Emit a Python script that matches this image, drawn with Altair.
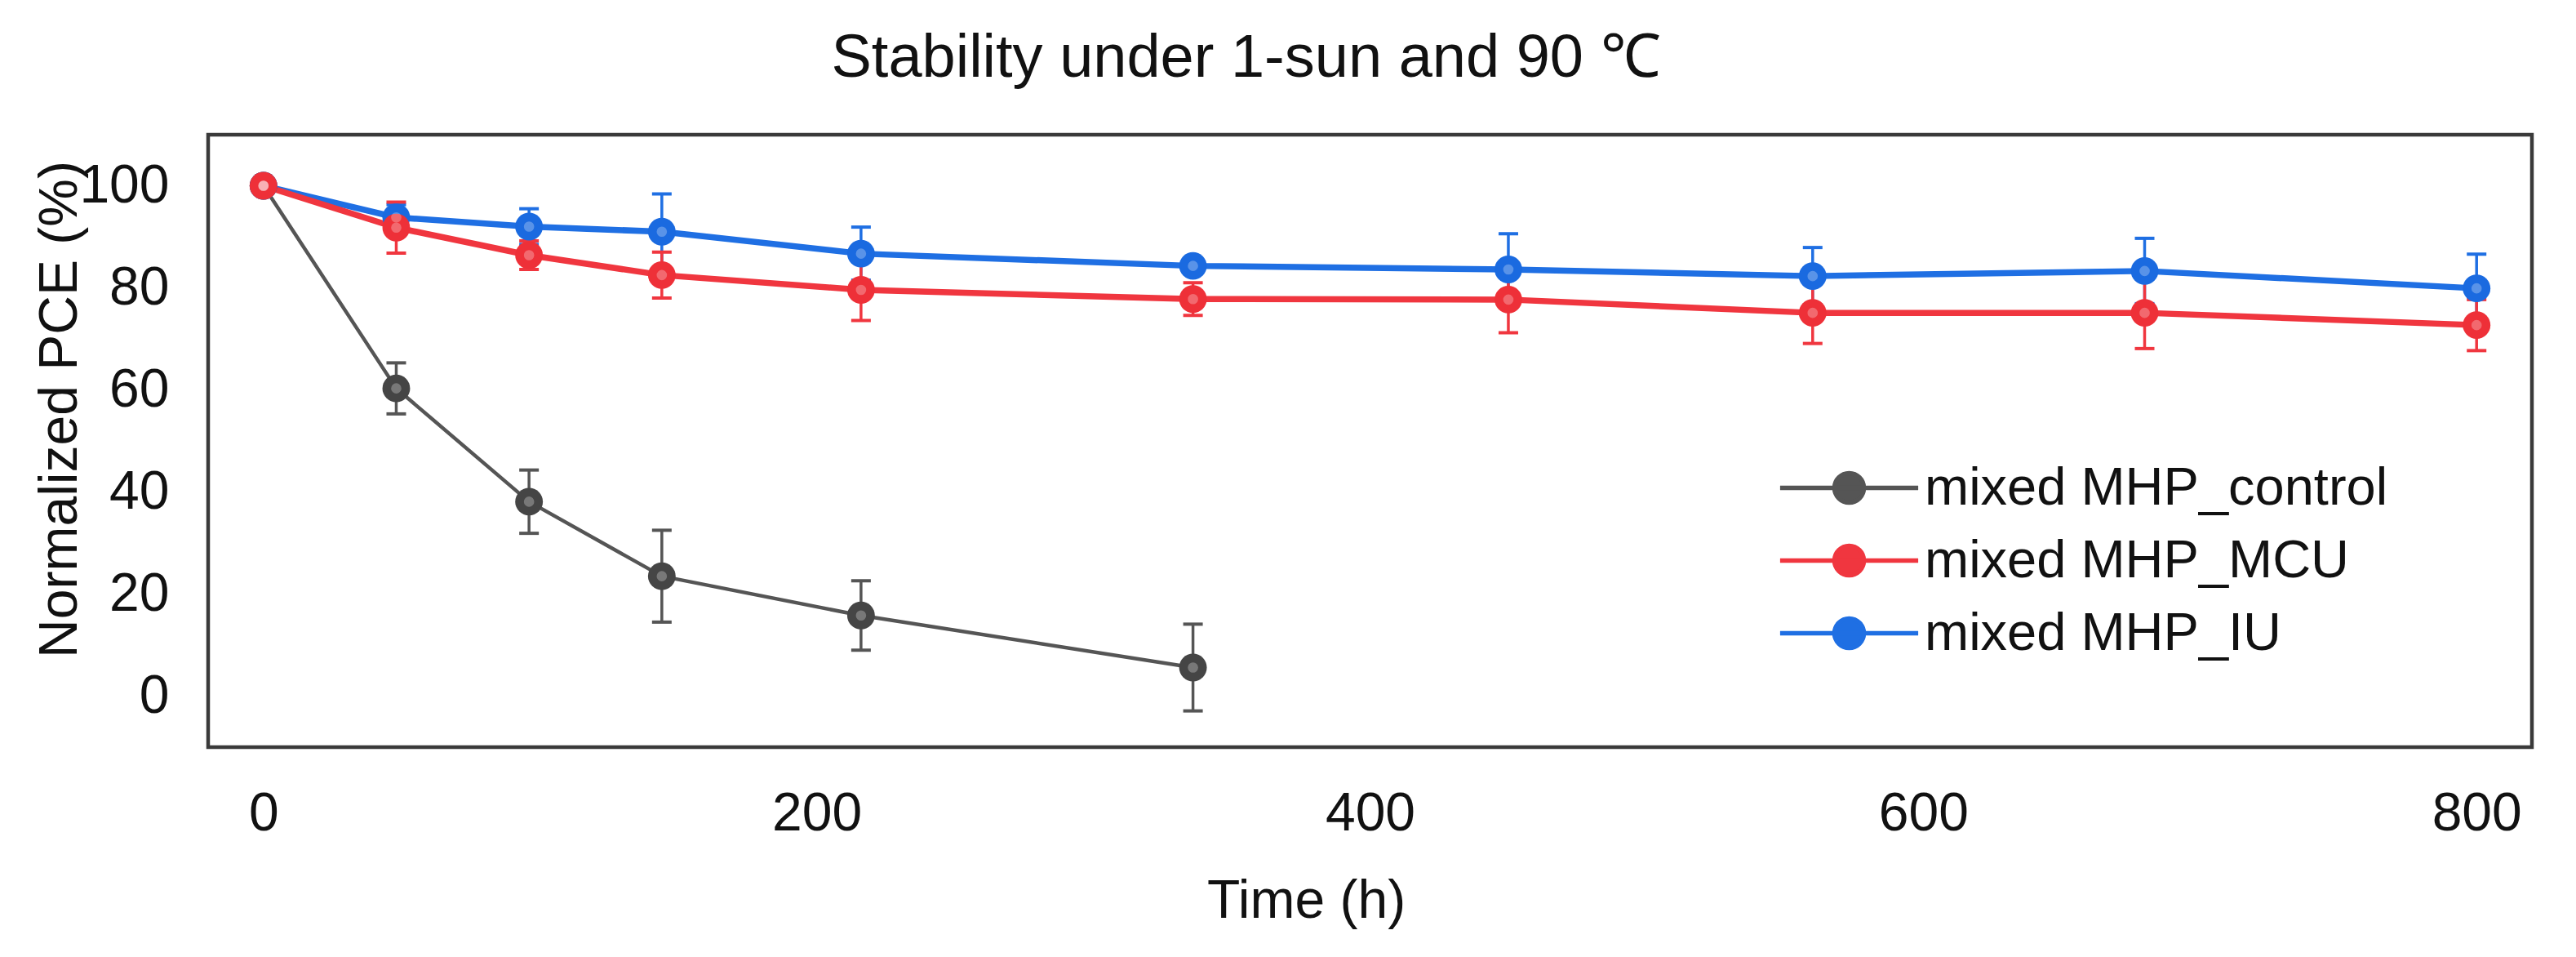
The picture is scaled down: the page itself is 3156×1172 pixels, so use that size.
import altair as alt
import pandas as pd

alt.data_transformers.disable_max_rows()

# --- data ---------------------------------------------------------------
series_names = ["mixed MHP_control", "mixed MHP_MCU", "mixed MHP_IU"]

time_ctrl = [0, 48, 96, 144, 216, 336]
pce_ctrl = [100, 60.3, 38.1, 23.5, 15.8, 5.6]
err_ctrl = [0.8, 5.0, 6.2, 9.0, 6.8, 8.5]

time_mhp = [0, 48, 96, 144, 216, 336, 450, 560, 680, 800]
pce_mcu = [100, 91.8, 86.4, 82.5, 79.6, 77.8, 77.7, 75.1, 75.1, 72.7]
err_mcu = [0.8, 5.0, 2.8, 4.5, 6.0, 3.2, 6.5, 6.0, 7.0, 5.0]
pce_iu = [100, 93.8, 92.0, 91.0, 86.7, 84.3, 83.6, 82.3, 83.3, 79.9]
err_iu = [0.8, 2.5, 3.5, 7.4, 5.2, 1.5, 7.0, 5.6, 6.4, 6.7]

x_ticks = [0, 200, 400, 600, 800]
y_ticks = [0, 20, 40, 60, 80, 100]

line_colors = ["#555555", "#f0363f", "#1f6fe3"]
dot_colors = ["#454545", "#ee3038", "#1a6ae0"]
FONT = "Liberation Sans"


# --- long table -------------------------------------------------------------
def block(name, t, v, e, order):
    return pd.DataFrame({
        "series": name,
        "order": order,
        "t": t,
        "v": v,
        "lo": [a - b for a, b in zip(v, e)],
        "hi": [a + b for a, b in zip(v, e)],
    })


df = pd.concat([
    block(series_names[0], time_ctrl, pce_ctrl, err_ctrl, 0),
    block(series_names[2], time_mhp, pce_iu, err_iu, 1),
    block(series_names[1], time_mhp, pce_mcu, err_mcu, 2),
], ignore_index=True)

x_scale = alt.Scale(domain=[-20, 820], nice=False)
y_scale = alt.Scale(domain=[-10, 110], nice=False)
stroke_scale = alt.Scale(domain=series_names, range=line_colors)
fill_scale = alt.Scale(domain=series_names, range=dot_colors)

# legend symbol: short line with a dot in the middle
legend_symbol = "M-4.7,0H4.7M1,0A1,1,0,1,1,-1,0A1,1,0,1,1,1,0Z"
legend = alt.Legend(
    title=None,
    orient="none",
    legendX=1978,
    legendY=400,
    symbolType=legend_symbol,
    symbolSize=1296,
    symbolStrokeWidth=5.5,
    symbolOpacity=1,
    labelOffset=60,
    rowPadding=23,
    labelFont=FONT,
    labelFontSize=65,
    labelColor="#111111",
    labelLimit=2000,
    padding=0,
)

x_enc = alt.X(
    "t:Q",
    scale=x_scale,
    axis=alt.Axis(
        values=x_ticks,
        title="Time (h)",
        titleX=1345,
        titleY=208,
        titleAlign="center",
        titleBaseline="alphabetic",
        labelPadding=101,
        labelBaseline="alphabetic",
    ),
)
y_enc = alt.Y(
    "v:Q",
    scale=y_scale,
    axis=alt.Axis(
        values=y_ticks,
        title="Normalized PCE (%)",
        titleX=-182,
        titleY=336,
        titleAngle=270,
        titleAlign="center",
        titleBaseline="middle",
        labelPadding=48,
    ),
)

base = alt.Chart(df)

is_ctrl = alt.datum.series == series_names[0]

lines = base.mark_line(strokeCap="round", strokeJoin="round").encode(
    x=x_enc,
    y=y_enc,
    stroke=alt.Stroke("series:N", scale=stroke_scale, legend=legend),
    strokeWidth=alt.condition(is_ctrl, alt.value(4.5), alt.value(7.5)),
    detail="series:N",
    order="t:Q",
)

bars = base.mark_rule(strokeWidth=3.5).encode(
    x="t:Q",
    y="lo:Q",
    y2="hi:Q",
    stroke=alt.Stroke("series:N", scale=stroke_scale),
)

caps = base.transform_fold(["lo", "hi"], as_=["end", "cap"]).mark_tick(
    orient="horizontal", size=24, thickness=4, opacity=1
).encode(
    x="t:Q",
    y="cap:Q",
    color=alt.Color("series:N", scale=stroke_scale, legend=None),
)

dots = base.mark_circle(size=1150, opacity=1, strokeWidth=0).encode(
    x="t:Q",
    y="v:Q",
    fill=alt.Fill("series:N", scale=fill_scale, legend=legend),
    order="order:Q",
)

# soft highlight in the middle of each marker
shine = base.mark_circle(size=160, opacity=0.28, color="white").encode(
    x="t:Q",
    y="v:Q",
    order="order:Q",
)

chart = (
    alt.layer(lines, bars, caps, dots, shine)
    .properties(
        width=2847,
        height=750,
        autosize=alt.AutoSizeParams(type="none"),
        padding={"left": 247, "top": 157, "right": 30, "bottom": 240},
        title=alt.TitleParams(
            "Stability under 1-sun and 90 ℃",
            font=FONT,
            fontSize=74,
            fontWeight="normal",
            color="#111111",
            anchor="middle",
            dx=-152,
            dy=73,
            baseline="alphabetic",
            offset=70,
        ),
    )
    .configure_view(stroke="#3a3a3a", strokeWidth=4.5)
    .configure_axis(
        grid=False,
        ticks=False,
        tickSize=0,
        domain=False,
        labelFont=FONT,
        labelFontSize=66,
        labelColor="#111111",
        titleFont=FONT,
        titleFontSize=66,
        titleFontWeight="normal",
        titleColor="#111111",
    )
)

chart.save("out.html", embed_options={"renderer": "svg", "actions": False})
